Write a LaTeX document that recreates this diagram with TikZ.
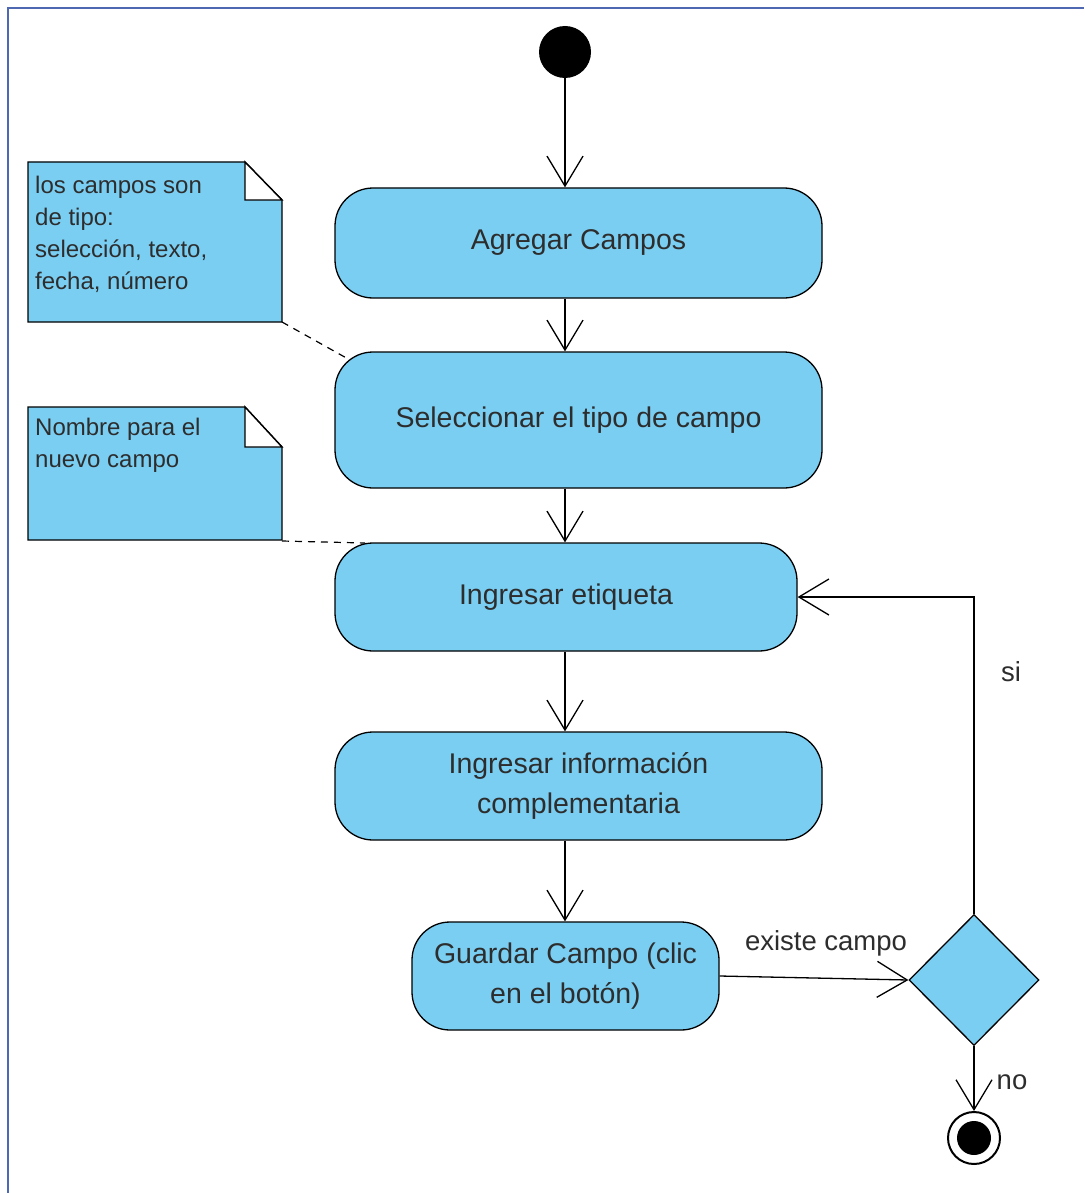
\documentclass[tikz,border=0pt]{standalone}
\usepackage{fontspec}
\setmainfont{Liberation Sans}
\usetikzlibrary{arrows.meta,shapes.geometric}
\definecolor{actfill}{RGB}{122,206,242}
\definecolor{txt}{RGB}{45,45,45}
\definecolor{framecol}{RGB}{78,104,178}

\begin{document}
\begin{tikzpicture}[x=1pt,y=-1pt,
  act/.style={draw=black, line width=1.3pt, fill=actfill, rounded corners=38pt,
    text=txt, font=\fontsize{28.5}{40}\selectfont, align=center, inner sep=0pt},
  flow/.style={draw=black, line width=1.3pt,
    -{Straight Barb[length=30pt,width=36pt,line width=1.3pt]}},
  notebox/.style={draw=black, line width=1.4pt, fill=actfill},
  notetext/.style={text=txt, font=\fontsize{24}{32}\selectfont, align=left,
    anchor=north west, inner sep=0pt},
  lbl/.style={text=txt, font=\fontsize{27.5}{30}\selectfont, inner sep=0pt},
  link/.style={draw=black, line width=1.2pt, dash pattern=on 7pt off 6pt},
]
\useasboundingbox (0,0) rectangle (1084,1193);

% frame
\draw[framecol, line width=2.5pt] (8,1193) -- (8,8) -- (1084,8);

% initial node
\node[circle, fill=black, minimum size=52pt, inner sep=0pt] (start) at (565,52) {};

% actions
\node[act, minimum width=487pt, minimum height=110pt] (a1) at (578.5,243) {\raisebox{-3pt}{Agregar Campos}};
\node[act, minimum width=487pt, minimum height=136pt] (a2) at (578.5,420) {\raisebox{-3pt}{Seleccionar el tipo de campo}};
\node[act, minimum width=462pt, minimum height=108pt] (a3) at (566,597) {\raisebox{-3pt}{Ingresar etiqueta}};
\node[act, minimum width=487pt, minimum height=108pt] (a4) at (578.5,786) {\raisebox{-3pt}{Ingresar información}\\\raisebox{-3pt}{complementaria}};
\node[act, minimum width=307pt, minimum height=108pt] (a5) at (565.5,976) {\raisebox{-3pt}{Guardar Campo (clic}\\\raisebox{-3pt}{en el botón)}};

% decision
\node[diamond, draw=black, line width=1.3pt, fill=actfill, minimum width=130pt,
  minimum height=131pt, inner sep=0pt] (d) at (974,980) {};

% final node
\node[circle, draw=black, line width=2pt, fill=white, minimum size=52pt, inner sep=0pt] (fin) at (974,1138) {};
\node[circle, fill=black, minimum size=34pt, inner sep=0pt] (finin) at (fin) {};

% notes
\draw[notebox] (28,162) -- (245,162) -- (282,200) -- (282,322) -- (28,322) -- cycle;
\draw[line width=1.4pt, fill=white] (245,162) -- (245,200) -- (282,200) -- cycle;
\node[notetext] (n1) at (35,176) {los campos son\\de tipo:\\selección, texto,\\fecha, número};
\coordinate (n1c) at (282,322);

\draw[notebox] (28,407) -- (245,407) -- (282,447) -- (282,540) -- (28,540) -- cycle;
\draw[line width=1.4pt, fill=white] (245,407) -- (245,447) -- (282,447) -- cycle;
\node[notetext] (n2) at (35,418) {Nombre para el\\nuevo campo};
\coordinate (n2c) at (282,541);

% note links
\coordinate (a2c) at (350,360);
\coordinate (a3c) at (365,543);
\draw[link] (n1c) -- (a2c);
\draw[link] (n2c) -- (a3c);

% control flow
\draw[flow] (start.south) -- (start |- a1.north);
\draw[flow] (start |- a1.south) -- (start |- a2.north);
\draw[flow] (start |- a2.south) -- (start |- a3.north);
\draw[flow] (start |- a3.south) -- (start |- a4.north);
\draw[flow] (start |- a4.south) -- (start |- a5.north);
\draw[flow] (a5.east) -- (d.west);
\draw[flow] (d.north) |- (a3.east);
\draw[flow] (d.south) -- (fin.north);

% guard labels
\node[lbl] (gsi) at (1011,672) {si};
\node[lbl] (gex) at (826,943) {existe campo};
\node[lbl] (gno) at (1012,1082) {no};
\end{tikzpicture}
\end{document}
